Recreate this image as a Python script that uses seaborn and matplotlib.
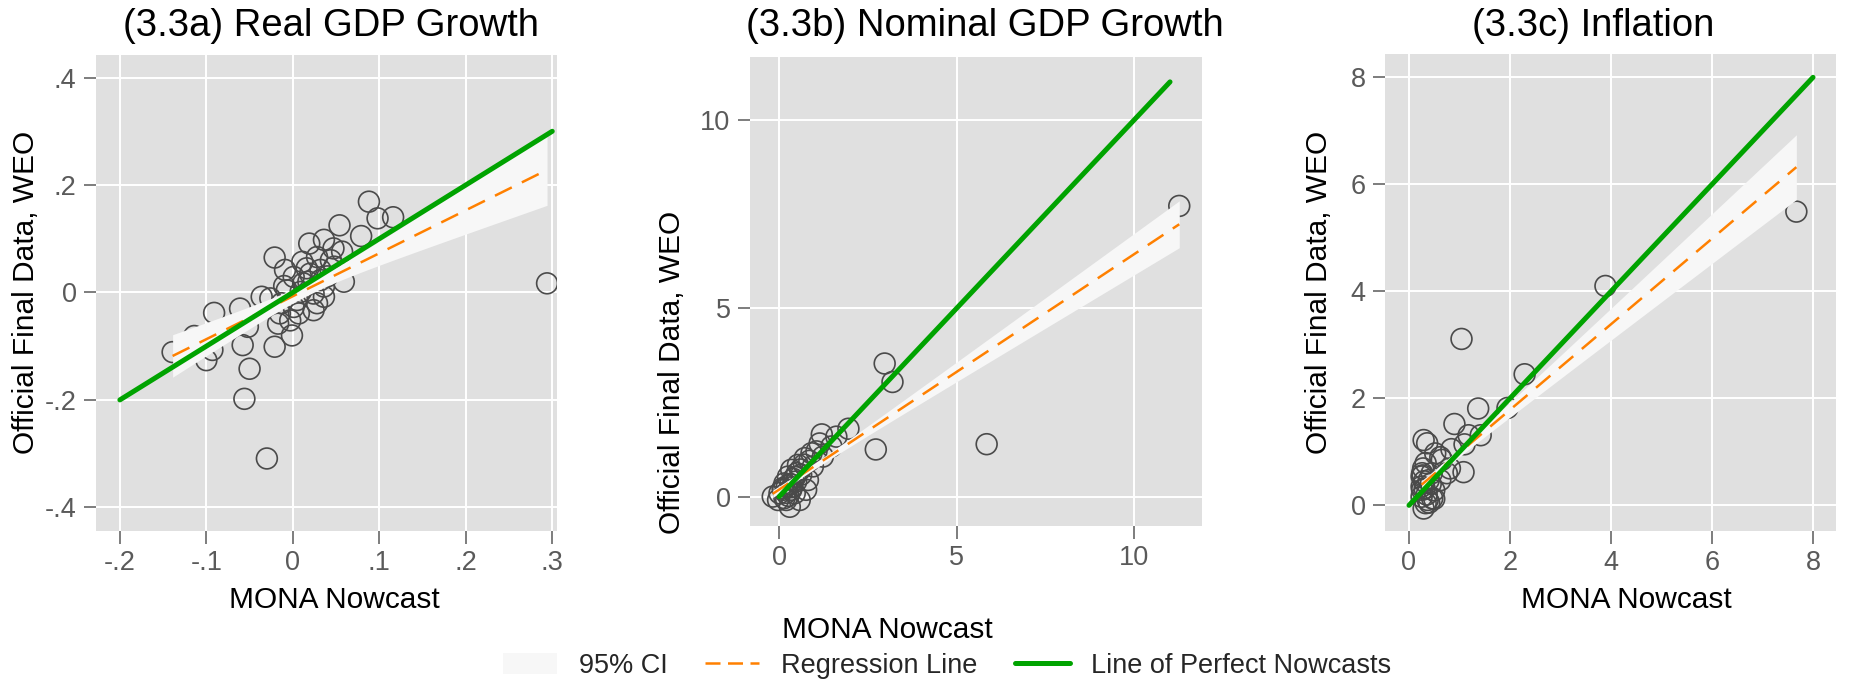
import numpy as np
import matplotlib
matplotlib.use("Agg")
import matplotlib.pyplot as plt
import seaborn as sns
from matplotlib.lines import Line2D
from matplotlib.patches import Patch

# ---------------------------------------------------------------- data
# (3.3a) Real GDP growth: MONA nowcast vs. official WEO figure
real_mona = [0.088, 0.098, 0.116, 0.054, 0.079, 0.036, 0.019, 0.047, -0.021, -0.009,
             0.011, 0.028, 0.044, 0.057, 0.001, 0.016, 0.032, 0.059, 0.036, 0.024,
             -0.036, -0.026, -0.007, 0.012, 0.028, -0.061, -0.015, 0.007, 0.024, -0.003,
             -0.017, -0.052, -0.091, -0.001, -0.021, -0.058, -0.093, -0.100, -0.114, -0.139,
             -0.050, -0.056, 0.005, 0.036, 0.018, 0.294, -0.030, 0.009, 0.032, -0.013,
             0.001, 0.048, 0.020, -0.010, 0.040]
real_weo = [0.169, 0.138, 0.140, 0.125, 0.105, 0.098, 0.091, 0.082, 0.065, 0.042,
            0.057, 0.066, 0.060, 0.076, 0.029, 0.045, 0.042, 0.020, 0.011, -0.002,
            -0.008, -0.011, 0.004, 0.017, -0.020, -0.030, -0.039, -0.039, -0.033, -0.052,
            -0.058, -0.064, -0.038, -0.080, -0.101, -0.098, -0.107, -0.126, -0.081, -0.111,
            -0.142, -0.198, -0.014, -0.008, 0.020, 0.017, -0.309, 0.001, 0.023, -0.020,
            -0.027, 0.048, 0.035, 0.012, 0.030]

# (3.3b) Nominal GDP growth
nom_mona = [11.26, 5.84, 2.97, 3.19, 2.72, 1.95, 1.20, 1.61, 1.14, 1.47,
            0.91, 0.72, 1.23, 0.53, 0.34, 0.95, 0.25, 0.62, 0.15, 0.48,
            0.34, 0.01, -0.18, -0.03, 0.30, 0.58, 0.76, 0.81, 0.11, 0.44,
            0.20, 0.10, 0.22, 0.32, 0.40, 0.36, 0.50, 0.45, 0.60, 0.20,
            0.26, 0.15, 0.70, 0.85, 1.05]
nom_weo = [7.71, 1.39, 3.53, 3.04, 1.25, 1.80, 1.65, 1.59, 1.41, 1.33,
           1.15, 1.02, 1.06, 0.84, 0.71, 0.80, 0.53, 0.58, 0.35, 0.40,
           0.18, 0.09, 0.00, -0.09, -0.27, -0.09, 0.18, 0.44, 0.18, 0.09,
           -0.09, 0.22, 0.28, 0.33, 0.47, 0.25, 0.62, 0.52, 0.72, 0.10,
           0.02, -0.04, 0.85, 0.95, 1.20]

# (3.3c) Inflation
infl_mona = [7.67, 3.89, 1.04, 2.29, 1.37, 1.95, 0.90, 1.42, 1.10, 0.84,
             1.08, 0.29, 0.36, 0.75, 0.65, 0.52, 0.33, 0.26, 0.39, 0.26,
             0.46, 0.29, 0.33, 0.25, 0.25, 1.18, 0.81, 0.62, 0.28, 0.31,
             0.50, 0.25, 0.50, 0.43, 0.62, 0.27, 0.35, 0.40, 0.30, 0.45, 0.37]
infl_weo = [5.49, 4.10, 3.11, 2.45, 1.81, 1.82, 1.52, 1.31, 1.14, 1.05,
            0.62, 1.22, 1.16, 0.60, 0.85, 0.97, 0.79, 0.60, 0.47, 0.29,
            0.13, -0.06, 0.04, 0.35, 0.54, 1.31, 0.69, 0.90, 0.69, 0.31,
            0.28, 0.16, 0.12, 0.40, 0.47, 0.56, 0.20, 0.05, 0.45, 0.60, 0.10]

# OLS fit (intercept, slope) and confidence-band shape per panel:
# half-width(x) = sqrt(ci_h0**2 + (ci_k * (x - ci_x0))**2)
reg_intercept = [-0.007, 0.186, 0.185]
reg_slope = [0.80, 0.625, 0.80]
ci_x0 = [0.02, 0.8, 0.6]
ci_h0 = [0.012, 0.08, 0.07]
ci_k = [0.237, 0.059, 0.085]

# 45-degree reference line extent per panel
perfect_range = [(-0.2, 0.3), (0.0, 11.0), (0.0, 8.0)]

titles = ["(3.3a) Real GDP Growth", "(3.3b) Nominal GDP Growth", "(3.3c) Inflation"]
xtick_vals = [[-0.2, -0.1, 0.0, 0.1, 0.2, 0.3], [0, 5, 10], [0, 2, 4, 6, 8]]
xtick_text = [["-.2", "-.1", "0", ".1", ".2", ".3"], ["0", "5", "10"], ["0", "2", "4", "6", "8"]]
ytick_vals = [[-0.4, -0.2, 0.0, 0.2, 0.4], [0, 5, 10], [0, 2, 4, 6, 8]]
ytick_text = [["-.4", "-.2", "0", ".2", ".4"], ["0", "5", "10"], ["0", "2", "4", "6", "8"]]
legend_labels = ["95% CI", "Regression Line", "Line of Perfect Nowcasts"]

# ---------------------------------------------------------------- style
sns.set_theme(style="white")
plt.rcParams["font.family"] = ["Liberation Sans", "DejaVu Sans"]

BG = "#E0E0E0"
BAND = "#F7F7F7"
ORANGE = "#FF8000"
GREEN = "#00A300"
MARK = "#4A4A4A"
TICK = "#5A5A5A"

W, H = 1872, 688
fig = plt.figure(figsize=(W / 100, H / 100), dpi=100)


def px_axes(left, top, right, bottom):
    return fig.add_axes([left / W, 1 - bottom / H, (right - left) / W, (bottom - top) / H])


boxes = [(96, 55, 557, 531), (750, 57, 1202, 526), (1385, 54, 1836, 531)]
xlims = [(-0.2276, 0.3055), (-0.82, 11.9), (-0.475, 8.455)]
ylims = [(-0.444, 0.442), (-0.78, 11.66), (-0.48, 8.436)]
title_x = [331, 985, 1593]
xlabel_pos = [(334, 608), (887, 638), (1626, 608)]
ylabel_pos = [(26, 292), (672, 372), (1319, 292)]

series = [(real_mona, real_weo), (nom_mona, nom_weo), (infl_mona, infl_weo)]

for i, (xs, ys) in enumerate(series):
    ax = px_axes(*boxes[i])
    ax.set_facecolor(BG)
    ax.set_axisbelow(True)
    for sp in ax.spines.values():
        sp.set_visible(False)

    sns.scatterplot(x=xs, y=ys, ax=ax, s=225, facecolors="none",
                    edgecolor=MARK, linewidth=1.2, zorder=2)

    xs_arr = np.asarray(xs)
    fx = np.linspace(xs_arr.min(), xs_arr.max(), 200)
    fy = reg_intercept[i] + reg_slope[i] * fx
    half = np.sqrt(ci_h0[i] ** 2 + (ci_k[i] * (fx - ci_x0[i])) ** 2)
    ax.fill_between(fx, fy - half, fy + half, color=BAND, lw=0, zorder=3)
    ax.plot(fx, fy, color=ORANGE, lw=1.8, ls=(0, (7.5, 4.5)), zorder=4)

    px0, px1 = perfect_range[i]
    ax.plot([px0, px1], [px0, px1], color=GREEN, lw=3.6,
            solid_capstyle="round", zorder=5)

    ax.set_xlim(*xlims[i])
    ax.set_ylim(*ylims[i])
    ax.set_xticks(xtick_vals[i])
    ax.set_xticklabels(xtick_text[i])
    ax.set_yticks(ytick_vals[i])
    ax.set_yticklabels(ytick_text[i])
    ax.grid(True, color="white", lw=1.4)
    ax.tick_params(axis="both", bottom=True, left=True, length=9, width=1.1,
                   color=TICK, labelcolor=TICK, labelsize=19.5, pad=5)
    ax.set_xlabel("")
    ax.set_ylabel("")

    fig.text(title_x[i] / W, 1 - 26 / H, titles[i], ha="center", va="center",
             fontsize=27.5, color="black")
    fig.text(xlabel_pos[i][0] / W, 1 - xlabel_pos[i][1] / H, "MONA Nowcast",
             ha="center", va="baseline", fontsize=21.5, color="black")
    fig.text(ylabel_pos[i][0] / W, 1 - ylabel_pos[i][1] / H, "Official Final Data, WEO",
             ha="center", va="center", rotation=90, fontsize=21.5, color="black")

handles = [
    Patch(facecolor=BAND, edgecolor="none"),
    Line2D([], [], color=ORANGE, lw=1.8, ls=(0, (6.0, 3.0))),
    Line2D([], [], color=GREEN, lw=3.6),
]
fig.legend(handles, legend_labels, loc="center", bbox_to_anchor=(947 / W, 1 - 666 / H),
           ncol=3, frameon=False, fontsize=19.5, handlelength=2.0, handleheight=0.8,
           handletextpad=0.8, columnspacing=1.4)

fig.savefig("out.png", dpi=100)
